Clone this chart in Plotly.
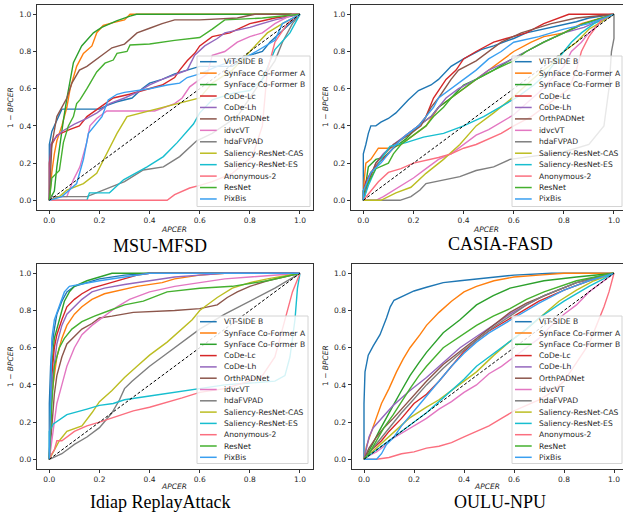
import plotly.graph_objects as go

# ---------------- data ----------------
methods = ["ViT-SIDE B", "SynFace Co-Former A", "SynFace Co-Former B", "CoDe-Lc", "CoDe-Lh",
           "OrthPADNet", "idvcVT", "hdaFVPAD", "Saliency-ResNet-CAS", "Saliency-ResNet-ES",
           "Anonymous-2", "ResNet", "PixBis"]
colors = ["#1f77b4", "#ff7f0e", "#2ca02c", "#d62728", "#9467bd", "#8c564b", "#e377c2",
          "#7f7f7f", "#bcbd22", "#17becf", "#fb6f7f", "#45b02f", "#3a9ff0"]
panel_titles = ["MSU-MFSD", "CASIA-FASD", "Idiap ReplayAttack", "OULU-NPU"]
tick_vals = [0.0, 0.2, 0.4, 0.6, 0.8, 1.0]
tick_text = ["0.0", "0.2", "0.4", "0.6", "0.8", "1.0"]
chance = [0.0, 1.0]

# (APCER, 1-BPCER) points
msu_vit = [(0,0),(0,0.30),(0.01,0.37),(0.03,0.43),(0.05,0.49),(0.2,0.49),(0.23,0.51),(0.27,0.53),(0.33,0.55),(0.37,0.6),(0.4,0.63),(0.45,0.65),(0.5,0.68),(0.55,0.7),(0.6,0.72),(0.73,0.72),(0.8,0.78),(0.85,0.8),(0.88,0.85),(0.92,0.9),(0.96,0.95),(1,1)]
msu_synA = [(0,0),(0.01,0.15),(0.02,0.25),(0.03,0.32),(0.05,0.4),(0.07,0.5),(0.083,0.6),(0.109,0.72),(0.136,0.79),(0.17,0.83),(0.189,0.9),(0.215,0.94),(0.255,0.955),(0.3,0.97),(0.322,1.0),(1,1)]
msu_synB = [(0,0),(0.02,0.05),(0.03,0.18),(0.043,0.32),(0.056,0.43),(0.069,0.54),(0.085,0.65),(0.096,0.74),(0.129,0.83),(0.176,0.9),(0.209,0.93),(0.268,0.965),(0.322,0.99),(0.348,1.0),(1,1)]
msu_codelc = [(0,0),(0,0.2),(0.01,0.3),(0.03,0.35),(0.08,0.38),(0.12,0.4),(0.15,0.45),(0.2,0.5),(0.255,0.55),(0.32,0.57),(0.4,0.6),(0.45,0.62),(0.5,0.66),(0.52,0.7),(0.55,0.75),(0.58,0.79),(0.6,0.83),(0.65,0.88),(0.72,0.9),(0.8,0.95),(0.9,0.98),(1,1)]
msu_codelh = [(0,0),(0.005,0.3),(0.02,0.33),(0.05,0.37),(0.1,0.41),(0.15,0.44),(0.19,0.47),(0.24,0.52),(0.3,0.55),(0.35,0.58),(0.4,0.62),(0.45,0.65),(0.55,0.7),(0.58,0.78),(0.62,0.83),(0.67,0.87),(0.7,0.9),(0.8,0.93),(0.9,0.97),(1,1)]
msu_orth = [(0,0),(0.01,0.3),(0.03,0.45),(0.05,0.5),(0.07,0.55),(0.09,0.63),(0.12,0.7),(0.15,0.72),(0.2,0.77),(0.25,0.82),(0.3,0.84),(0.35,0.9),(0.4,0.925),(0.45,0.95),(0.5,0.97),(0.6,0.97),(0.75,0.98),(0.82,1.0),(1,1)]
msu_idvc = [(0,0),(0.03,0.02),(0.07,0.02),(0.096,0.11),(0.122,0.18),(0.149,0.31),(0.162,0.4),(0.189,0.44),(0.229,0.48),(0.42,0.48),(0.5,0.52),(0.53,0.55),(0.56,0.61),(0.6,0.65),(0.63,0.68),(0.65,0.78),(0.7,0.8),(0.75,0.85),(0.8,0.88),(0.85,0.9),(0.9,0.95),(0.97,1.0),(1,1)]
msu_hda = [(0,0),(0.01,0.02),(0.15,0.02),(0.229,0.064),(0.3,0.1),(0.375,0.163),(0.455,0.18),(0.52,0.235),(0.588,0.32),(0.65,0.36),(0.75,0.45),(0.8,0.55),(0.85,0.65),(0.9,0.75),(0.93,0.85),(0.97,0.95),(1,1)]
msu_salcas = [(0,0),(0.04,0.02),(0.07,0.055),(0.136,0.09),(0.189,0.145),(0.229,0.25),(0.27,0.36),(0.31,0.45),(0.37,0.47),(0.455,0.5),(0.52,0.52),(0.6,0.55),(0.65,0.63),(0.73,0.7),(0.8,0.8),(0.87,0.9),(0.93,0.95),(1,1)]
msu_sales = [(0,0),(0.15,0),(0.16,0.04),(0.24,0.04),(0.296,0.11),(0.39,0.18),(0.455,0.235),(0.51,0.31),(0.575,0.41),(0.6,0.47),(0.65,0.54),(0.73,0.575),(0.8,0.59),(0.85,0.65),(0.9,0.81),(0.96,0.9),(1,1)]
msu_anon = [(0,0),(0.47,0),(0.5,0.03),(0.56,0.066),(0.6,0.08),(0.65,0.1),(0.73,0.145),(0.81,0.235),(0.85,0.4),(0.87,0.7),(0.9,0.85),(0.95,0.95),(1,1)]
msu_resnet = [(0,0),(0.005,0.05),(0.01,0.12),(0.04,0.16),(0.056,0.31),(0.076,0.4),(0.096,0.45),(0.109,0.52),(0.122,0.54),(0.15,0.6),(0.189,0.69),(0.222,0.737),(0.255,0.754),(0.27,0.79),(0.31,0.8),(0.322,0.835),(0.4,0.84),(0.5,0.86),(0.6,0.875),(0.65,0.92),(0.7,0.97),(0.85,0.98),(1,1)]
msu_pix = [(0,0),(0.05,0.02),(0.109,0.09),(0.136,0.22),(0.156,0.36),(0.175,0.39),(0.2,0.43),(0.21,0.45),(0.235,0.54),(0.27,0.57),(0.3,0.58),(0.4,0.6),(0.47,0.62),(0.52,0.63),(0.55,0.66),(0.6,0.68),(0.67,0.72),(0.73,0.75),(0.8,0.78),(0.85,0.82),(0.9,0.86),(0.93,0.95),(1,1)]

cas_vit = [(0,0),(0,0.25),(0.01,0.3),(0.02,0.36),(0.03,0.4),(0.05,0.4),(0.07,0.42),(0.1,0.44),(0.13,0.47),(0.15,0.5),(0.18,0.54),(0.22,0.59),(0.27,0.62),(0.3,0.65),(0.35,0.72),(0.4,0.76),(0.47,0.81),(0.52,0.83),(0.6,0.87),(0.65,0.9),(0.72,0.92),(0.78,0.94),(0.85,0.96),(0.9,0.98),(1,1)]
cas_synA = [(0,0),(0.003,0.1),(0.01,0.2),(0.03,0.22),(0.06,0.28),(0.1,0.28),(0.15,0.3),(0.2,0.35),(0.25,0.4),(0.3,0.5),(0.35,0.55),(0.4,0.6),(0.45,0.65),(0.5,0.7),(0.55,0.75),(0.6,0.8),(0.67,0.85),(0.72,0.88),(0.8,0.9),(0.87,0.95),(1,1)]
cas_synB = [(0,0),(0.005,0.05),(0.02,0.18),(0.05,0.22),(0.08,0.23),(0.12,0.28),(0.17,0.33),(0.22,0.4),(0.27,0.45),(0.3,0.5),(0.35,0.55),(0.4,0.62),(0.45,0.65),(0.52,0.7),(0.58,0.75),(0.65,0.8),(0.72,0.85),(0.8,0.9),(0.88,0.95),(1,1)]
cas_codelc = [(0,0),(0,0.05),(0.01,0.1),(0.03,0.15),(0.06,0.2),(0.1,0.25),(0.13,0.3),(0.17,0.35),(0.22,0.4),(0.25,0.45),(0.28,0.55),(0.3,0.59),(0.33,0.65),(0.37,0.7),(0.4,0.76),(0.45,0.8),(0.52,0.85),(0.57,0.87),(0.65,0.9),(0.72,0.95),(0.78,0.98),(0.82,1),(1,1)]
cas_codelh = [(0,0),(0.02,0.1),(0.05,0.2),(0.08,0.25),(0.12,0.3),(0.17,0.35),(0.22,0.4),(0.27,0.45),(0.3,0.5),(0.33,0.55),(0.38,0.6),(0.45,0.65),(0.5,0.7),(0.58,0.75),(0.65,0.8),(0.72,0.85),(0.8,0.9),(0.88,0.93),(1,1)]
cas_orth = [(0,0),(0.02,0.1),(0.05,0.2),(0.12,0.3),(0.18,0.35),(0.23,0.4),(0.27,0.5),(0.3,0.55),(0.35,0.65),(0.38,0.7),(0.45,0.75),(0.5,0.8),(0.55,0.85),(0.63,0.9),(0.75,0.95),(0.85,0.98),(1,1)]
cas_idvc = [(0,0),(0.05,0),(0.08,0.02),(0.15,0.08),(0.2,0.12),(0.25,0.17),(0.3,0.22),(0.35,0.25),(0.4,0.3),(0.45,0.35),(0.5,0.38),(0.55,0.42),(0.6,0.46),(0.65,0.52),(0.7,0.58),(0.75,0.65),(0.8,0.72),(0.83,0.8),(0.87,0.85),(0.9,0.9),(0.95,0.96),(1,1)]
cas_hda = [(0,0),(0.146,0),(0.19,0.02),(0.226,0.055),(0.25,0.09),(0.32,0.11),(0.385,0.127),(0.45,0.16),(0.52,0.18),(0.585,0.22),(0.7,0.24),(0.8,0.26),(0.9,0.3),(0.96,0.4),(0.98,0.6),(0.99,0.8),(1,0.87),(1,1)]
cas_salcas = [(0,0),(0.07,0),(0.13,0.04),(0.19,0.07),(0.25,0.145),(0.32,0.22),(0.385,0.3),(0.45,0.4),(0.52,0.47),(0.585,0.54),(0.65,0.62),(0.7,0.68),(0.75,0.73),(0.8,0.8),(0.85,0.85),(0.9,0.92),(1,1)]
cas_sales = [(0,0),(0.02,0.08),(0.053,0.18),(0.08,0.24),(0.106,0.29),(0.17,0.31),(0.24,0.34),(0.32,0.36),(0.4,0.4),(0.48,0.45),(0.57,0.52),(0.62,0.56),(0.68,0.62),(0.73,0.68),(0.77,0.75),(0.8,0.8),(0.83,0.85),(0.87,0.9),(0.92,0.95),(1,1)]
cas_anon = [(0,0),(0.03,0.05),(0.06,0.1),(0.1,0.15),(0.15,0.17),(0.2,0.2),(0.27,0.22),(0.3,0.23),(0.35,0.25),(0.4,0.28),(0.45,0.3),(0.5,0.33),(0.55,0.36),(0.6,0.4),(0.67,0.45),(0.72,0.5),(0.77,0.55),(0.82,0.6),(0.85,0.7),(0.87,0.8),(0.9,0.88),(0.95,0.97),(1,1)]
cas_resnet = [(0,0),(0,0.05),(0.03,0.12),(0.05,0.17),(0.1,0.2),(0.12,0.25),(0.15,0.3),(0.2,0.35),(0.25,0.4),(0.28,0.45),(0.32,0.5),(0.35,0.55),(0.4,0.6),(0.45,0.65),(0.52,0.7),(0.6,0.75),(0.65,0.8),(0.72,0.85),(0.8,0.9),(0.88,0.95),(1,1)]
cas_pix = [(0,0),(0,0.05),(0.03,0.15),(0.07,0.2),(0.1,0.25),(0.13,0.3),(0.17,0.35),(0.22,0.4),(0.25,0.45),(0.28,0.5),(0.3,0.55),(0.35,0.6),(0.4,0.65),(0.45,0.7),(0.5,0.76),(0.55,0.8),(0.6,0.85),(0.7,0.88),(0.8,0.92),(0.9,0.95),(1,1)]

idi_vit = [(0,0),(0,0.3),(0.005,0.5),(0.01,0.6),(0.02,0.7),(0.03,0.78),(0.05,0.85),(0.07,0.9),(0.1,0.93),(0.15,0.95),(0.2,0.97),(0.3,0.99),(0.4,1),(1,1)]
idi_synA = [(0,0),(0.01,0.35),(0.03,0.55),(0.05,0.65),(0.07,0.72),(0.1,0.78),(0.13,0.82),(0.17,0.86),(0.22,0.89),(0.28,0.91),(0.35,0.93),(0.45,0.95),(0.5,0.97),(0.6,0.99),(0.7,1),(1,1)]
idi_synB = [(0,0),(0.01,0.5),(0.02,0.65),(0.04,0.75),(0.06,0.85),(0.08,0.9),(0.1,0.93),(0.15,0.96),(0.2,0.98),(0.25,1),(1,1)]
idi_codelc = [(0,0),(0.01,0.45),(0.02,0.6),(0.03,0.67),(0.05,0.75),(0.07,0.82),(0.1,0.86),(0.13,0.89),(0.17,0.92),(0.22,0.94),(0.3,0.97),(0.35,0.99),(0.4,1),(1,1)]
idi_codelh = [(0,0),(0.01,0.4),(0.03,0.62),(0.05,0.72),(0.07,0.78),(0.1,0.82),(0.13,0.86),(0.17,0.9),(0.22,0.92),(0.3,0.94),(0.4,0.96),(0.5,0.98),(0.6,0.99),(0.7,1),(1,1)]
idi_orth = [(0,0),(0.01,0.2),(0.02,0.35),(0.03,0.45),(0.05,0.55),(0.07,0.62),(0.1,0.66),(0.13,0.7),(0.17,0.73),(0.2,0.76),(0.25,0.77),(0.335,0.79),(0.5,0.8),(0.6,0.81),(0.67,0.83),(0.71,0.87),(0.75,0.9),(0.8,0.93),(0.87,0.96),(0.96,0.99),(1,1)]
idi_idvc = [(0,0),(0.01,0.1),(0.02,0.2),(0.03,0.3),(0.05,0.4),(0.07,0.5),(0.1,0.6),(0.13,0.67),(0.17,0.72),(0.22,0.77),(0.27,0.82),(0.32,0.86),(0.4,0.9),(0.5,0.93),(0.6,0.95),(0.7,0.97),(0.8,0.98),(0.9,0.99),(1,1)]
idi_hda = [(0,0),(0.05,0.03),(0.1,0.08),(0.15,0.12),(0.2,0.17),(0.25,0.25),(0.28,0.32),(0.3,0.38),(0.33,0.42),(0.4,0.5),(0.45,0.55),(0.5,0.6),(0.55,0.65),(0.6,0.7),(0.7,0.78),(0.8,0.85),(0.9,0.92),(1,1)]
idi_salcas = [(0,0),(0.02,0.05),(0.04,0.1),(0.07,0.15),(0.13,0.18),(0.17,0.25),(0.2,0.31),(0.25,0.37),(0.3,0.44),(0.35,0.5),(0.4,0.56),(0.47,0.63),(0.53,0.7),(0.57,0.75),(0.6,0.8),(0.67,0.87),(0.73,0.92),(0.8,0.95),(0.87,0.97),(1,1)]
idi_sales = [(0,0),(0,0.15),(0.016,0.19),(0.07,0.24),(0.15,0.27),(0.2,0.29),(0.255,0.3),(0.3,0.32),(0.4,0.34),(0.5,0.36),(0.59,0.38),(0.7,0.4),(0.8,0.41),(0.9,0.42),(0.94,0.45),(0.96,0.55),(0.98,0.75),(0.99,0.92),(1,1)]
idi_anon = [(0,0),(0.01,0.03),(0.02,0.05),(0.03,0.1),(0.05,0.1),(0.07,0.12),(0.1,0.15),(0.15,0.18),(0.2,0.2),(0.335,0.26),(0.4,0.28),(0.53,0.33),(0.6,0.36),(0.7,0.38),(0.8,0.42),(0.85,0.45),(0.9,0.55),(0.93,0.7),(0.95,0.8),(0.97,0.9),(1,1)]
idi_resnet = [(0,0),(0.01,0.3),(0.02,0.5),(0.04,0.6),(0.06,0.65),(0.09,0.7),(0.13,0.74),(0.18,0.77),(0.24,0.8),(0.3,0.83),(0.375,0.85),(0.47,0.9),(0.6,0.92),(0.73,0.93),(0.87,0.96),(1,1)]
idi_pix = [(0,0),(0.005,0.45),(0.01,0.65),(0.02,0.75),(0.04,0.83),(0.06,0.9),(0.08,0.93),(0.12,0.94),(0.2,0.96),(0.3,0.98),(0.4,1),(1,1)]

oul_vit = [(0,0),(0,0.3),(0.004,0.47),(0.017,0.56),(0.037,0.61),(0.064,0.67),(0.09,0.76),(0.105,0.82),(0.12,0.855),(0.157,0.88),(0.2,0.905),(0.25,0.925),(0.317,0.95),(0.384,0.96),(0.45,0.97),(0.52,0.98),(0.6,0.99),(0.75,1),(1,1)]
oul_synA = [(0,0),(0.01,0.07),(0.03,0.15),(0.05,0.22),(0.07,0.3),(0.1,0.38),(0.13,0.47),(0.157,0.54),(0.184,0.6),(0.224,0.67),(0.25,0.72),(0.3,0.79),(0.35,0.85),(0.4,0.9),(0.45,0.93),(0.52,0.96),(0.6,0.98),(0.7,0.99),(0.8,1),(1,1)]
oul_synB = [(0,0),(0.03,0.07),(0.06,0.15),(0.09,0.22),(0.117,0.29),(0.15,0.37),(0.184,0.45),(0.22,0.52),(0.25,0.575),(0.317,0.68),(0.384,0.75),(0.45,0.83),(0.517,0.88),(0.584,0.92),(0.65,0.94),(0.72,0.96),(0.85,0.98),(1,1)]
oul_codelc = [(0,0),(0.03,0.05),(0.07,0.1),(0.1,0.15),(0.15,0.22),(0.2,0.3),(0.25,0.35),(0.3,0.42),(0.35,0.5),(0.4,0.58),(0.45,0.64),(0.5,0.69),(0.6,0.77),(0.7,0.85),(0.8,0.91),(0.9,0.96),(1,1)]
oul_codelh = [(0,0),(0.01,0.07),(0.02,0.12),(0.037,0.17),(0.07,0.22),(0.117,0.29),(0.15,0.33),(0.184,0.37),(0.25,0.44),(0.317,0.52),(0.384,0.6),(0.45,0.66),(0.517,0.72),(0.584,0.78),(0.65,0.83),(0.72,0.88),(0.85,0.95),(1,1)]
oul_orth = [(0,0),(0.02,0.06),(0.05,0.12),(0.08,0.17),(0.117,0.22),(0.15,0.27),(0.184,0.32),(0.25,0.42),(0.317,0.51),(0.384,0.58),(0.45,0.65),(0.517,0.72),(0.584,0.79),(0.65,0.84),(0.72,0.88),(0.85,0.95),(0.93,0.98),(1,1)]
oul_idvc = [(0,0),(0.02,0.02),(0.05,0.04),(0.08,0.07),(0.1,0.1),(0.15,0.14),(0.2,0.18),(0.25,0.22),(0.3,0.27),(0.35,0.31),(0.4,0.36),(0.45,0.4),(0.5,0.46),(0.55,0.5),(0.6,0.55),(0.65,0.6),(0.7,0.65),(0.75,0.72),(0.8,0.78),(0.85,0.83),(0.9,0.9),(1,1)]
oul_hda = [(0,0),(0.03,0.05),(0.07,0.12),(0.117,0.2),(0.15,0.25),(0.184,0.3),(0.25,0.4),(0.317,0.49),(0.384,0.57),(0.45,0.64),(0.517,0.71),(0.584,0.77),(0.65,0.83),(0.72,0.88),(0.85,0.95),(1,1)]
oul_salcas = [(0,0),(0.05,0.06),(0.1,0.12),(0.18,0.22),(0.25,0.28),(0.3,0.32),(0.38,0.4),(0.45,0.47),(0.52,0.56),(0.58,0.63),(0.65,0.7),(0.72,0.78),(0.78,0.85),(0.85,0.91),(0.92,0.96),(1,1)]
oul_sales = [(0,0),(0.05,0.05),(0.1,0.1),(0.15,0.15),(0.2,0.2),(0.25,0.25),(0.3,0.31),(0.35,0.37),(0.4,0.43),(0.45,0.5),(0.5,0.55),(0.55,0.6),(0.6,0.65),(0.65,0.7),(0.7,0.76),(0.8,0.85),(0.9,0.93),(1,1)]
oul_anon = [(0,0),(0.05,0),(0.1,0.01),(0.15,0.03),(0.2,0.04),(0.25,0.06),(0.3,0.07),(0.35,0.09),(0.4,0.12),(0.45,0.15),(0.5,0.18),(0.55,0.22),(0.6,0.26),(0.65,0.29),(0.7,0.32),(0.75,0.36),(0.8,0.42),(0.85,0.52),(0.9,0.62),(0.93,0.72),(0.96,0.82),(0.98,0.9),(1,1)]
oul_resnet = [(0,0),(0.02,0.03),(0.05,0.1),(0.08,0.17),(0.117,0.24),(0.15,0.31),(0.184,0.38),(0.22,0.45),(0.25,0.5),(0.317,0.6),(0.384,0.66),(0.45,0.72),(0.517,0.77),(0.584,0.81),(0.65,0.86),(0.72,0.9),(0.85,0.96),(1,1)]
oul_pix = [(0,0),(0.05,0),(0.07,0.03),(0.09,0.08),(0.12,0.12),(0.15,0.18),(0.2,0.26),(0.25,0.34),(0.3,0.42),(0.35,0.5),(0.4,0.57),(0.45,0.63),(0.5,0.68),(0.6,0.76),(0.7,0.84),(0.8,0.91),(0.9,0.96),(1,1)]

panel_curves = [
    [msu_vit, msu_synA, msu_synB, msu_codelc, msu_codelh, msu_orth, msu_idvc, msu_hda, msu_salcas, msu_sales, msu_anon, msu_resnet, msu_pix],
    [cas_vit, cas_synA, cas_synB, cas_codelc, cas_codelh, cas_orth, cas_idvc, cas_hda, cas_salcas, cas_sales, cas_anon, cas_resnet, cas_pix],
    [idi_vit, idi_synA, idi_synB, idi_codelc, idi_codelh, idi_orth, idi_idvc, idi_hda, idi_salcas, idi_sales, idi_anon, idi_resnet, idi_pix],
    [oul_vit, oul_synA, oul_synB, oul_codelc, oul_codelh, oul_orth, oul_idvc, oul_hda, oul_salcas, oul_sales, oul_anon, oul_resnet, oul_pix],
]

# ---------------- layout (pixels) ----------------
W, H = 623, 512
def PX(x): return x / W
def PY(y): return 1 - y / H

panels = [
    dict(l=36.8, r=312.5, t=5.0, b=209.6, xmax=1.05, ylab=(10, 107), xlab=(174, 229), cap=(159.5, 245.5),
         leg=dict(l=197, r=310, t=56, b=206.5, y0=61.7, dy=11.44, ln=(200, 216.7), tx=222.7)),
    dict(l=350.8, r=623, t=5.0, b=209.6, xmax=1.036, ylab=(325, 107), xlab=(486, 229), cap=(500, 243.5),
         leg=dict(l=512, r=622, t=56, b=206.5, y0=61.7, dy=11.44, ln=(515, 531.7), tx=537.7)),
    dict(l=36.8, r=312.5, t=264.0, b=468.6, xmax=1.05, ylab=(10, 366), xlab=(174, 486), cap=(159.5, 501.5),
         leg=dict(l=197, r=308, t=316, b=463.5, y0=321.7, dy=11.3, ln=(200, 216.7), tx=222.7)),
    dict(l=351.5, r=623, t=264.0, b=468.6, xmax=1.036, ylab=(325, 366), xlab=(487, 486), cap=(499.5, 501.5),
         leg=dict(l=512, r=622, t=316, b=463.5, y0=321.7, dy=11.3, ln=(515, 531.7), tx=537.7)),
]

FONT = "DejaVu Sans"
TXT = "#262626"
fig = go.Figure()
shapes, annotations = [], []

for i, (p, curves) in enumerate(zip(panels, panel_curves)):
    k = "" if i == 0 else str(i + 1)
    xa, ya = "x" + k, "y" + k
    for name, col, pts in zip(methods, colors, curves):
        fig.add_trace(go.Scatter(x=[q[0] for q in pts], y=[q[1] for q in pts], mode="lines",
                                 line=dict(color=col, width=1.4), name=name, showlegend=False,
                                 hoverinfo="skip", xaxis=xa, yaxis=ya))
    fig.add_trace(go.Scatter(x=chance, y=chance, mode="lines", line=dict(color="black", width=1, dash="3px,2px"),
                             showlegend=False, hoverinfo="skip", xaxis=xa, yaxis=ya))
    axis_common = dict(showline=True, mirror=True, linecolor="#333333", linewidth=1, ticks="outside",
                       ticklen=3, tickwidth=1, tickcolor="#333333", tickvals=tick_vals, ticktext=tick_text,
                       showgrid=False, zeroline=False, tickfont=dict(family=FONT, size=7.5, color=TXT))
    fig.layout["xaxis" + k] = dict(domain=[PX(p["l"]), min(1.0, PX(p["r"]))], range=[-0.05, p["xmax"]],
                                   anchor=ya, **axis_common)
    fig.layout["yaxis" + k] = dict(domain=[PY(p["b"]), PY(p["t"])], range=[-0.05, 1.05], anchor=xa, **axis_common)

    annotations.append(dict(text="<i>APCER</i>", x=PX(p["xlab"][0]), y=PY(p["xlab"][1]), xref="paper", yref="paper",
                            showarrow=False, xanchor="center", yanchor="middle",
                            font=dict(family=FONT, size=7.5, color=TXT)))
    annotations.append(dict(text="1 \u2212 <i>BPCER</i>", x=PX(p["ylab"][0]), y=PY(p["ylab"][1]), xref="paper",
                            yref="paper", showarrow=False, textangle=-90, xanchor="center", yanchor="middle",
                            font=dict(family=FONT, size=7.5, color=TXT)))
    annotations.append(dict(text=panel_titles[i], x=PX(p["cap"][0]), y=PY(p["cap"][1]), xref="paper", yref="paper",
                            showarrow=False, xanchor="center", yanchor="middle",
                            font=dict(family="Liberation Serif", size=18, color="black")))

    L = p["leg"]
    shapes.append(dict(type="rect", xref="paper", yref="paper", x0=PX(L["l"]), x1=PX(L["r"]),
                       y0=PY(L["b"]), y1=PY(L["t"]), fillcolor="rgba(255,255,255,0.82)",
                       line=dict(color="#d4d4d4", width=1), layer="above"))
    for j, (name, col) in enumerate(zip(methods, colors)):
        yc = L["y0"] + j * L["dy"]
        shapes.append(dict(type="line", xref="paper", yref="paper", x0=PX(L["ln"][0]), x1=PX(L["ln"][1]),
                           y0=PY(yc), y1=PY(yc), line=dict(color=col, width=1.5), layer="above"))
        annotations.append(dict(text=name, x=PX(L["tx"]), y=PY(yc), xref="paper", yref="paper",
                                showarrow=False, xanchor="left", yanchor="middle", borderpad=0,
                                font=dict(family=FONT, size=7.6, color=TXT)))

fig.update_layout(width=W, height=H, margin=dict(l=0, r=0, t=0, b=0), paper_bgcolor="white",
                  plot_bgcolor="white", showlegend=False, shapes=shapes, annotations=annotations)

fig.write_html("out.html", config={"displayModeBar": False, "staticPlot": True},
               post_script="document.body.style.margin='0px';document.body.style.padding='0px';"
                           "document.body.style.overflow='hidden';")
